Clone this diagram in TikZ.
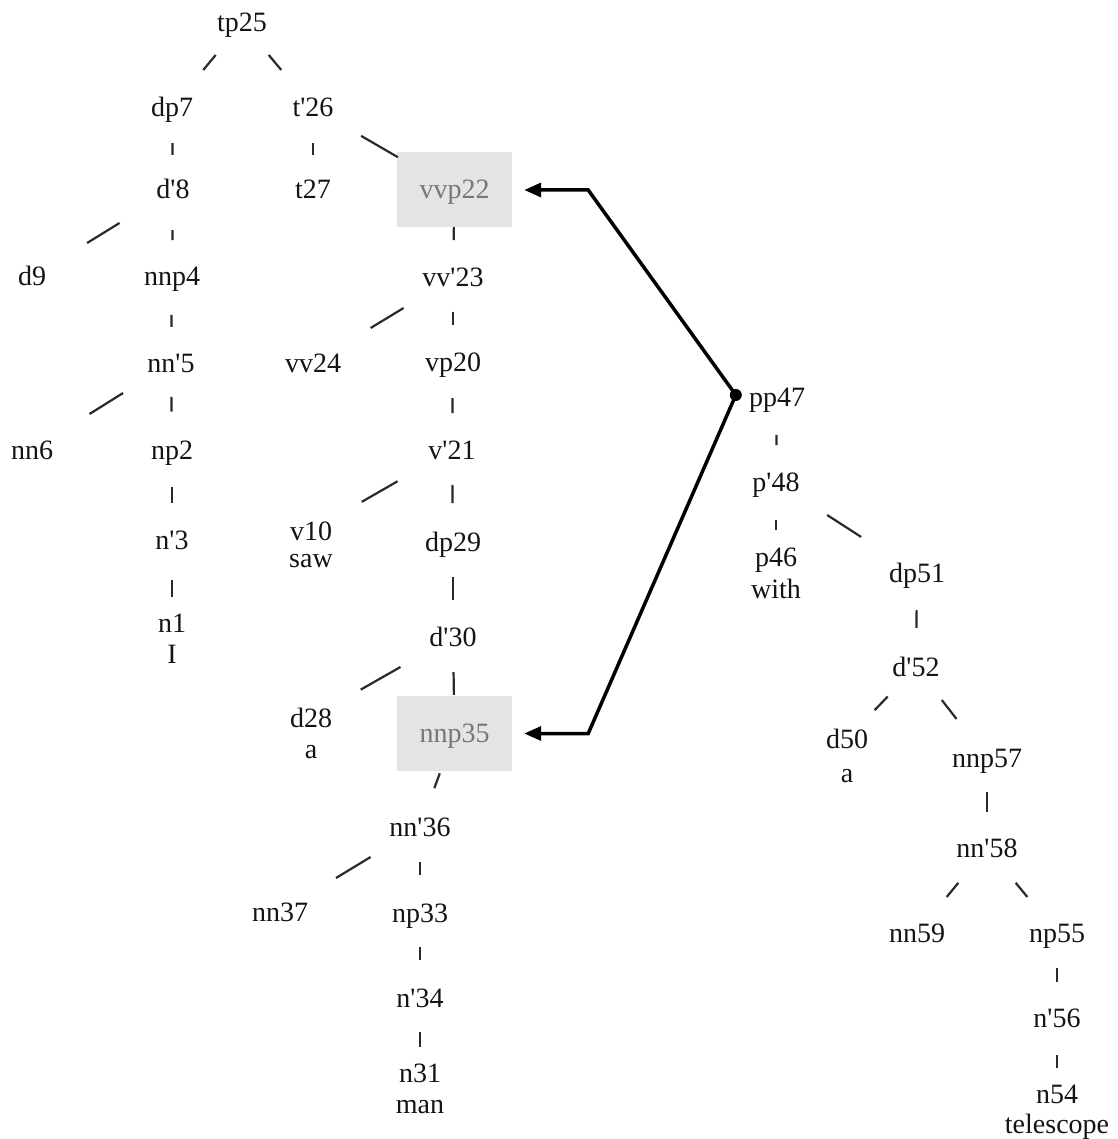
\documentclass[tikz,border=0pt]{standalone}
\usepackage{fontspec}
\setmainfont{Liberation Serif}[Ligatures=TeXOff]
\usetikzlibrary{calc,arrows.meta}

\definecolor{ink}{HTML}{141414}
\definecolor{shade}{HTML}{E4E4E4}
\definecolor{dim}{HTML}{777777}
\definecolor{treegray}{HTML}{2A2A2A}

\tikzset{
  lbl/.style={inner sep=0pt, text height=18pt, text depth=0pt, text=ink,
              font=\fontsize{28}{32}\selectfont},
  lexword/.style={inner sep=0pt, anchor=base, text=ink,
              font=\fontsize{28}{32}\selectfont},
  moved/.style={lbl, fill=shade, text=dim, minimum width=115pt, minimum height=75pt},
  treeline/.style={draw=treegray, line width=2.2pt},
  movearrow/.style={draw=black, line width=3.5pt, line join=miter,
              -{Triangle[length=17pt,width=14pt]}, shorten >=12pt},
}
% short branch stroke drawn on the part of the line between two nodes
\newcommand{\seg}[4]{\draw[treeline] ($(#1)!#3!(#2)$) -- ($(#1)!#4!(#2)$);}

\begin{document}
\begin{tikzpicture}[x=1pt,y=-1pt]
\fill[white] (0,0) rectangle (1117,1139);
\useasboundingbox (0,0) rectangle (1117,1139);

% main clause
\node[lbl] (tp25) at (242,23) {tp25};
\node[lbl] (dp7) at (172,108) {dp7};
\node[lbl] (t26) at (313,108) {t'26};
\node[lbl] (d8) at (173,190) {d'8};
\node[lbl] (t27) at (313,190) {t27};
\node[moved] (vvp22) at (454.5,190) {vvp22};
\node[lbl] (d9) at (32,277) {d9};
\node[lbl] (nnp4) at (172,277) {nnp4};
\node[lbl] (vv23) at (453,278) {vv'23};
\node[lbl] (nn5) at (171,363) {nn'5};
\node[lbl] (vv24) at (313,363) {vv24};
\node[lbl] (vp20) at (453,362) {vp20};
\node[lbl] (nn6) at (32,450) {nn6};
\node[lbl] (np2) at (172,450) {np2};
\node[lbl] (v21) at (452,450) {v'21};
\node[lbl] (n3) at (172,540) {n'3};
\node[lbl] (v10) at (311,531) {v10};
\node[lexword] (saw) at (311,567) {saw};
\node[lbl] (dp29) at (453,542) {dp29};
\node[lbl] (n1) at (172,623) {n1};
\node[lexword] (I) at (172,663) {I};
\node[lbl] (d30) at (453,637) {d'30};
\node[lbl] (d28) at (311,718) {d28};
\node[lexword] (a1) at (311,758) {a};
\node[moved] (nnp35) at (454.5,733.5) {nnp35};
\node[lbl] (nn36) at (420,827) {nn'36};
\node[lbl] (nn37) at (280,912) {nn37};
\node[lbl] (np33) at (420,913) {np33};
\node[lbl] (n34) at (420,998) {n'34};
\node[lbl] (n31) at (420,1073) {n31};
\node[lexword] (man) at (420,1113) {man};

% prepositional phrase
\node[lbl] (pp47) at (777,397) {pp47};
\node[lbl] (p48) at (776,482) {p'48};
\node[lbl] (p46) at (776,557) {p46};
\node[lexword] (with) at (776,598) {with};
\node[lbl] (dp51) at (917,573) {dp51};
\node[lbl] (d52) at (916,667) {d'52};
\node[lbl] (d50) at (847,739) {d50};
\node[lexword] (a2) at (847,782) {a};
\node[lbl] (nnp57) at (987,758) {nnp57};
\node[lbl] (nn58) at (987,848) {nn'58};
\node[lbl] (nn59) at (917,933) {nn59};
\node[lbl] (np55) at (1057,933) {np55};
\node[lbl] (n56) at (1057,1018) {n'56};
\node[lbl] (n54) at (1057,1094) {n54};
\node[lexword] (telescope) at (1057,1133) {telescope};

% branches
\seg{tp25}{dp7}{0.376}{0.553}
\seg{tp25}{t26}{0.376}{0.553}
\seg{dp7}{d8}{0.427}{0.573}
\seg{t26}{t27}{0.427}{0.573}
\seg{t26}{vvp22}{0.34}{0.60}
\seg{d8}{d9}{0.379}{0.609}
\seg{d8}{nnp4}{0.46}{0.575}
\seg{vvp22}{vv23}{0.42}{0.57}
\seg{nnp4}{nn5}{0.44}{0.58}
\seg{vv23}{vv24}{0.353}{0.588}
\seg{vv23}{vp20}{0.40}{0.56}
\seg{nn5}{nn6}{0.345}{0.586}
\seg{nn5}{np2}{0.39}{0.56}
\seg{vp20}{v21}{0.41}{0.58}
\seg{np2}{n3}{0.41}{0.59}
\seg{v21}{v10}{0.386}{0.64}
\seg{v21}{dp29}{0.38}{0.577}
\seg{n3}{n1}{0.48}{0.69}
\seg{dp29}{d30}{0.37}{0.61}
\seg{d30}{d28}{0.37}{0.65}
\seg{d30}{nnp35}{0.365}{0.6}
\seg{nnp35}{nn36}{0.426}{0.585}
\seg{nn36}{nn37}{0.353}{0.6}
\seg{nn36}{np33}{0.41}{0.56}
\seg{np33}{n34}{0.40}{0.55}
\seg{n34}{n31}{0.453}{0.653}
\seg{pp47}{p48}{0.447}{0.565}
\seg{p48}{p46}{0.507}{0.64}
\seg{p48}{dp51}{0.363}{0.604}
\seg{dp51}{d52}{0.394}{0.585}
\seg{d52}{d50}{0.41}{0.6}
\seg{d52}{nnp57}{0.363}{0.571}
\seg{nnp57}{nn58}{0.38}{0.6}
\seg{nn58}{nn59}{0.41}{0.576}
\seg{nn58}{np55}{0.41}{0.576}
\seg{np55}{n56}{0.41}{0.576}
\seg{n56}{n54}{0.487}{0.658}

% attachment arrows from the prepositional phrase
\coordinate (hub) at ([xshift=-13pt,yshift=2pt]pp47.west);
\draw[movearrow] (hub) -- ([xshift=76pt]vvp22.east) -- (vvp22.east);
\draw[movearrow] (hub) -- ([xshift=76pt]nnp35.east) -- (nnp35.east);
\fill (hub) circle (6pt);
\end{tikzpicture}
\end{document}
